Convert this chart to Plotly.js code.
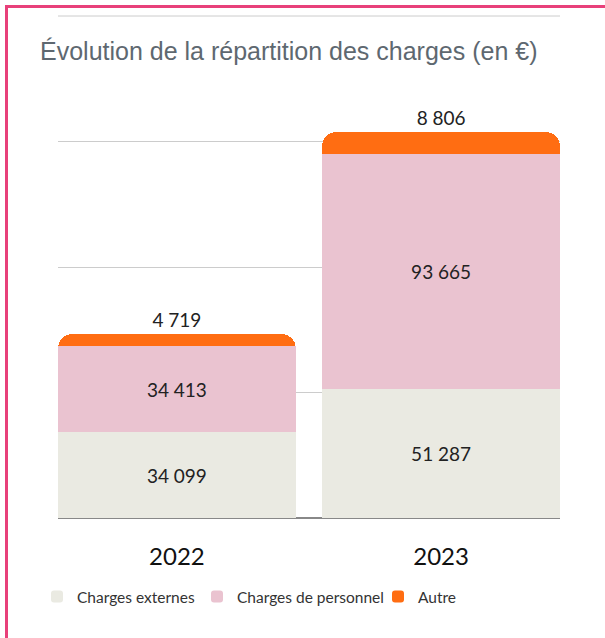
<!DOCTYPE html>
<html>
<head>
<meta charset="utf-8">
<script src="https://cdn.plot.ly/plotly-3.0.1.min.js"></script>
<style>
html,body{margin:0;padding:0;background:#fff;overflow:hidden;}
#frame{position:absolute;left:5px;top:5px;width:700px;height:700px;border-left:3px solid #e8407a;border-top:3px solid #e8407a;box-sizing:border-box;}
#chart{position:absolute;left:0;top:0;width:605px;height:638px;}
</style>
</head>
<body>
<div id="frame"></div>
<div id="chart"></div>
<script>
const years = ['2022', '2023'];
const chargesExternes = [34099, 51287];
const chargesPersonnel = [34413, 93665];
const autre = [4719, 8806];
const seriesNames = ['Charges externes', 'Charges de personnel', 'Autre'];
const seriesColors = ['#eaeae2', '#eac3d0', '#ff6d12'];
const gridValues = [50000, 100000, 150000, 200000];

const textFont = {family: 'Lato, sans-serif', size: 19, color: '#222'};
const legendIds = ['legend', 'legend2', 'legend3'];
function mk(vals, i, pos) {
  return {
    type: 'bar', x: years, y: vals, name: seriesNames[i], legend: legendIds[i],
    marker: {color: seriesColors[i], line: {width: 0}},
    width: 0.9,
    texttemplate: '%{y:,d}', textposition: pos,
    insidetextanchor: 'middle',
    textfont: textFont, outsidetextfont: textFont, insidetextfont: textFont,
    cliponaxis: false, hoverinfo: 'skip'
  };
}
const data = [
  mk(chargesExternes, 0, 'inside'),
  mk(chargesPersonnel, 1, 'inside'),
  mk(autre, 2, 'outside')
];
function leg(xpx) {
  return {orientation: 'h', x: xpx/605, xref: 'container', xanchor: 'left', y: 1 - 597/638, yref: 'container', yanchor: 'middle',
          font: {family: 'Lato, sans-serif', size: 15.5, color: '#333'}, bgcolor: 'rgba(0,0,0,0)'};
}
const layout = {
  width: 605, height: 638,
  margin: {l: 58, r: 45, t: 15, b: 120},
  paper_bgcolor: 'rgba(0,0,0,0)', plot_bgcolor: 'rgba(0,0,0,0)',
  barmode: 'stack', barcornerradius: 14,
  separators: ', ',
  title: {text: 'Évolution de la répartition des charges (en €)', x: 40/605, xanchor: 'left', xref: 'container',
          y: 1 - 51/638, yanchor: 'middle', yref: 'container',
          font: {family: 'Liberation Sans, Arial, sans-serif', size: 25, color: '#5e6870'}},
  xaxis: {type: 'category', range: [-0.45, 1.45], showgrid: false, zeroline: false, showline: false,
          ticks: '', tickfont: {family: 'Lato, sans-serif', size: 24, color: '#111'}, ticklabelstandoff: 22},
  yaxis: {range: [0, 200400], tickvals: [0, 50000, 100000, 150000], showticklabels: false, gridcolor: '#cccccc', gridwidth: 1,
          zeroline: true, zerolinecolor: '#888', zerolinewidth: 2, showline: false, ticks: ''},
  shapes: [{type: 'line', xref: 'paper', yref: 'y', x0: 0, x1: 1, y0: gridValues[3], y1: gridValues[3],
            line: {color: '#cccccc', width: 1}, layer: 'below'}],
  showlegend: true,
  legend: leg(37), legend2: leg(197), legend3: leg(378),
  font: {family: 'Lato, sans-serif'}
};
Plotly.newPlot('chart', data, layout, {staticPlot: true, displayModeBar: false});
</script>
</body>
</html>
